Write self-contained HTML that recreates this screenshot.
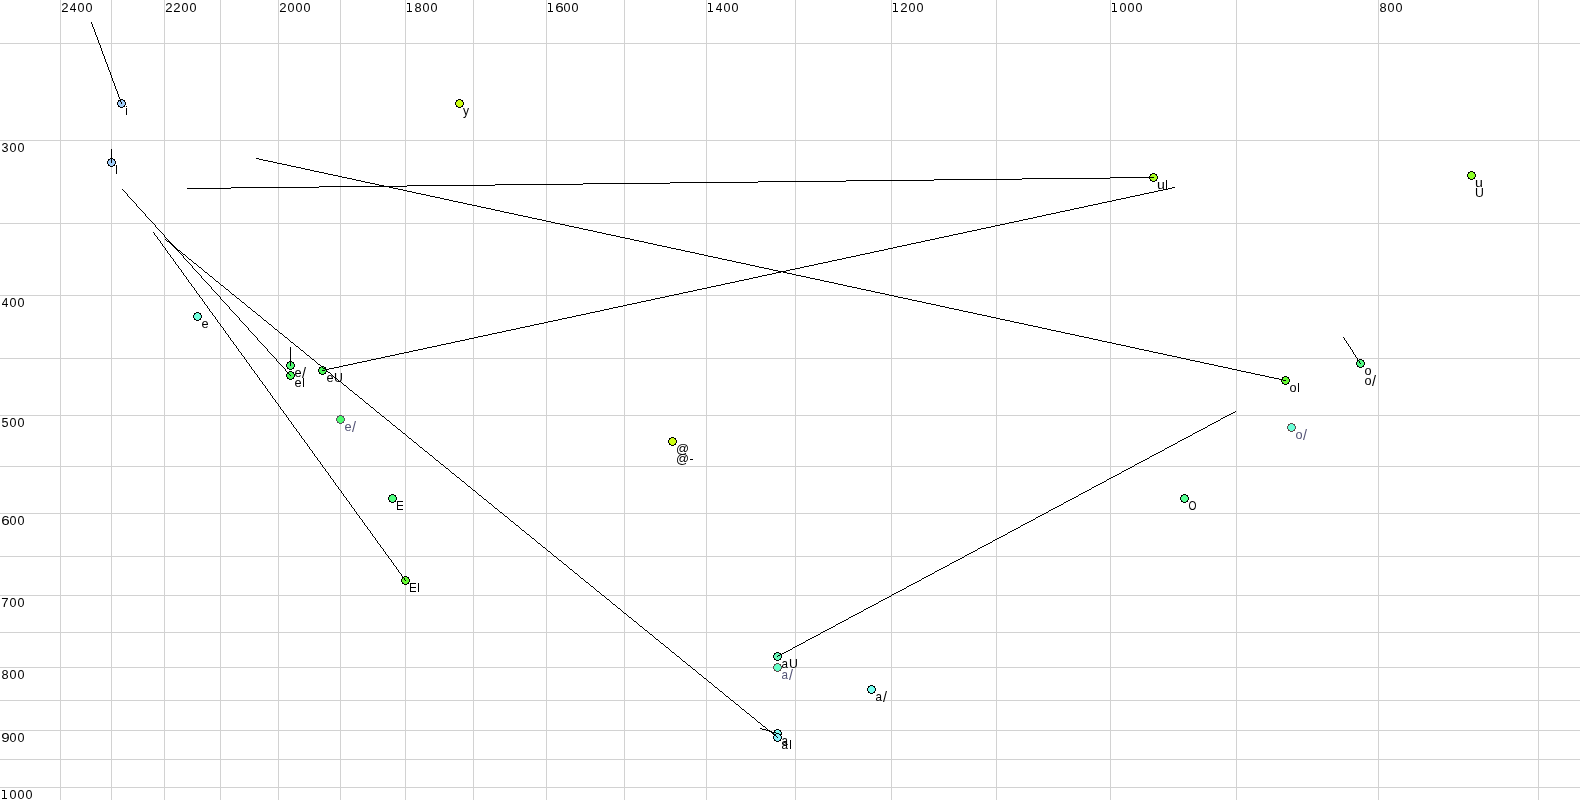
<!DOCTYPE html><html><head><meta charset="utf-8"><style>html,body{margin:0;padding:0;background:#fff;overflow:hidden}#w{position:absolute;left:0;top:0;width:1580px;height:800px;will-change:transform}svg{display:block}text{font-family:"Liberation Sans",sans-serif;font-size:13.0px}</style></head><body><div id="w">
<svg width="1580" height="800" viewBox="0 0 1580 800" shape-rendering="crispEdges">
<rect width="1580" height="800" fill="#fff"/>
<path fill="#d2d2d2" d="M60 0h1v800h-1zM111 0h1v800h-1zM164 0h1v800h-1zM220 0h1v800h-1zM278 0h1v800h-1zM340 0h1v800h-1zM405 0h1v800h-1zM473 0h1v800h-1zM546 0h1v800h-1zM624 0h1v800h-1zM706 0h1v800h-1zM795 0h1v800h-1zM891 0h1v800h-1zM996 0h1v800h-1zM1110 0h1v800h-1zM1236 0h1v800h-1zM1378 0h1v800h-1zM1538 0h1v800h-1zM0 43h1580v1h-1580zM0 140h1580v1h-1580zM0 223h1580v1h-1580zM0 295h1580v1h-1580zM0 358h1580v1h-1580zM0 415h1580v1h-1580zM0 466h1580v1h-1580zM0 513h1580v1h-1580zM0 556h1580v1h-1580zM0 595h1580v1h-1580zM0 632h1580v1h-1580zM0 667h1580v1h-1580zM0 700h1580v1h-1580zM0 730h1580v1h-1580zM0 759h1580v1h-1580zM0 787h1580v1h-1580z"/>
<path fill="#a2cefa" d="M120 100h3v1h-3zM119 101h5v1h-5zM118 102h7v1h-7zM118 103h7v1h-7zM118 104h7v1h-7zM119 105h5v1h-5zM120 106h3v1h-3z"/><path fill="#000" d="M120 99h3v1h-3zM118 100h2v1h-2zM123 100h2v1h-2zM118 101h1v1h-1zM124 101h1v1h-1zM117 102h1v1h-1zM125 102h1v1h-1zM117 103h1v1h-1zM125 103h1v1h-1zM117 104h1v1h-1zM125 104h1v1h-1zM118 105h1v1h-1zM124 105h1v1h-1zM118 106h2v1h-2zM123 106h2v1h-2zM120 107h3v1h-3z"/>
<path fill="#ccff14" d="M458 100h3v1h-3zM457 101h5v1h-5zM456 102h7v1h-7zM456 103h7v1h-7zM456 104h7v1h-7zM457 105h5v1h-5zM458 106h3v1h-3z"/><path fill="#000" d="M458 99h3v1h-3zM456 100h2v1h-2zM461 100h2v1h-2zM456 101h1v1h-1zM462 101h1v1h-1zM455 102h1v1h-1zM463 102h1v1h-1zM455 103h1v1h-1zM463 103h1v1h-1zM455 104h1v1h-1zM463 104h1v1h-1zM456 105h1v1h-1zM462 105h1v1h-1zM456 106h2v1h-2zM461 106h2v1h-2zM458 107h3v1h-3z"/>
<path fill="#a2cefa" d="M110 159h3v1h-3zM109 160h5v1h-5zM108 161h7v1h-7zM108 162h7v1h-7zM108 163h7v1h-7zM109 164h5v1h-5zM110 165h3v1h-3z"/><path fill="#000" d="M110 158h3v1h-3zM108 159h2v1h-2zM113 159h2v1h-2zM108 160h1v1h-1zM114 160h1v1h-1zM107 161h1v1h-1zM115 161h1v1h-1zM107 162h1v1h-1zM115 162h1v1h-1zM107 163h1v1h-1zM115 163h1v1h-1zM108 164h1v1h-1zM114 164h1v1h-1zM108 165h2v1h-2zM113 165h2v1h-2zM110 166h3v1h-3z"/>
<path fill="#aaff22" d="M1152 174h3v1h-3zM1151 175h5v1h-5zM1150 176h7v1h-7zM1150 177h7v1h-7zM1150 178h7v1h-7zM1151 179h5v1h-5zM1152 180h3v1h-3z"/><path fill="#000" d="M1152 173h3v1h-3zM1150 174h2v1h-2zM1155 174h2v1h-2zM1150 175h1v1h-1zM1156 175h1v1h-1zM1149 176h1v1h-1zM1157 176h1v1h-1zM1149 177h1v1h-1zM1157 177h1v1h-1zM1149 178h1v1h-1zM1157 178h1v1h-1zM1150 179h1v1h-1zM1156 179h1v1h-1zM1150 180h2v1h-2zM1155 180h2v1h-2zM1152 181h3v1h-3z"/>
<path fill="#8cff26" d="M1470 172h3v1h-3zM1469 173h5v1h-5zM1468 174h7v1h-7zM1468 175h7v1h-7zM1468 176h7v1h-7zM1469 177h5v1h-5zM1470 178h3v1h-3z"/><path fill="#000" d="M1470 171h3v1h-3zM1468 172h2v1h-2zM1473 172h2v1h-2zM1468 173h1v1h-1zM1474 173h1v1h-1zM1467 174h1v1h-1zM1475 174h1v1h-1zM1467 175h1v1h-1zM1475 175h1v1h-1zM1467 176h1v1h-1zM1475 176h1v1h-1zM1468 177h1v1h-1zM1474 177h1v1h-1zM1468 178h2v1h-2zM1473 178h2v1h-2zM1470 179h3v1h-3z"/>
<path fill="#70ffdd" d="M196 313h3v1h-3zM195 314h5v1h-5zM194 315h7v1h-7zM194 316h7v1h-7zM194 317h7v1h-7zM195 318h5v1h-5zM196 319h3v1h-3z"/><path fill="#000" d="M196 312h3v1h-3zM194 313h2v1h-2zM199 313h2v1h-2zM194 314h1v1h-1zM200 314h1v1h-1zM193 315h1v1h-1zM201 315h1v1h-1zM193 316h1v1h-1zM201 316h1v1h-1zM193 317h1v1h-1zM201 317h1v1h-1zM194 318h1v1h-1zM200 318h1v1h-1zM194 319h2v1h-2zM199 319h2v1h-2zM196 320h3v1h-3z"/>
<path fill="#50fa72" d="M289 362h3v1h-3zM288 363h5v1h-5zM287 364h7v1h-7zM287 365h7v1h-7zM287 366h7v1h-7zM288 367h5v1h-5zM289 368h3v1h-3z"/><path fill="#000" d="M289 361h3v1h-3zM287 362h2v1h-2zM292 362h2v1h-2zM287 363h1v1h-1zM293 363h1v1h-1zM286 364h1v1h-1zM294 364h1v1h-1zM286 365h1v1h-1zM294 365h1v1h-1zM286 366h1v1h-1zM294 366h1v1h-1zM287 367h1v1h-1zM293 367h1v1h-1zM287 368h2v1h-2zM292 368h2v1h-2zM289 369h3v1h-3z"/>
<path fill="#48fa58" d="M289 372h3v1h-3zM288 373h5v1h-5zM287 374h7v1h-7zM287 375h7v1h-7zM287 376h7v1h-7zM288 377h5v1h-5zM289 378h3v1h-3z"/><path fill="#000" d="M289 371h3v1h-3zM287 372h2v1h-2zM292 372h2v1h-2zM287 373h1v1h-1zM293 373h1v1h-1zM286 374h1v1h-1zM294 374h1v1h-1zM286 375h1v1h-1zM294 375h1v1h-1zM286 376h1v1h-1zM294 376h1v1h-1zM287 377h1v1h-1zM293 377h1v1h-1zM287 378h2v1h-2zM292 378h2v1h-2zM289 379h3v1h-3z"/>
<path fill="#48fa55" d="M321 367h3v1h-3zM320 368h5v1h-5zM319 369h7v1h-7zM319 370h7v1h-7zM319 371h7v1h-7zM320 372h5v1h-5zM321 373h3v1h-3z"/><path fill="#000" d="M321 366h3v1h-3zM319 367h2v1h-2zM324 367h2v1h-2zM319 368h1v1h-1zM325 368h1v1h-1zM318 369h1v1h-1zM326 369h1v1h-1zM318 370h1v1h-1zM326 370h1v1h-1zM318 371h1v1h-1zM326 371h1v1h-1zM319 372h1v1h-1zM325 372h1v1h-1zM319 373h2v1h-2zM324 373h2v1h-2zM321 374h3v1h-3z"/>
<path fill="#4aff6e" d="M339 416h3v1h-3zM338 417h5v1h-5zM337 418h7v1h-7zM337 419h7v1h-7zM337 420h7v1h-7zM338 421h5v1h-5zM339 422h3v1h-3z"/><path fill="#5c5060" d="M339 415h3v1h-3zM337 416h2v1h-2zM342 416h2v1h-2zM337 417h1v1h-1zM343 417h1v1h-1zM336 418h1v1h-1zM344 418h1v1h-1zM336 419h1v1h-1zM344 419h1v1h-1zM336 420h1v1h-1zM344 420h1v1h-1zM337 421h1v1h-1zM343 421h1v1h-1zM337 422h2v1h-2zM342 422h2v1h-2zM339 423h3v1h-3z"/>
<path fill="#66fa33" d="M1284 377h3v1h-3zM1283 378h5v1h-5zM1282 379h7v1h-7zM1282 380h7v1h-7zM1282 381h7v1h-7zM1283 382h5v1h-5zM1284 383h3v1h-3z"/><path fill="#000" d="M1284 376h3v1h-3zM1282 377h2v1h-2zM1287 377h2v1h-2zM1282 378h1v1h-1zM1288 378h1v1h-1zM1281 379h1v1h-1zM1289 379h1v1h-1zM1281 380h1v1h-1zM1289 380h1v1h-1zM1281 381h1v1h-1zM1289 381h1v1h-1zM1282 382h1v1h-1zM1288 382h1v1h-1zM1282 383h2v1h-2zM1287 383h2v1h-2zM1284 384h3v1h-3z"/>
<path fill="#55fa84" d="M1359 360h3v1h-3zM1358 361h5v1h-5zM1357 362h7v1h-7zM1357 363h7v1h-7zM1357 364h7v1h-7zM1358 365h5v1h-5zM1359 366h3v1h-3z"/><path fill="#000" d="M1359 359h3v1h-3zM1357 360h2v1h-2zM1362 360h2v1h-2zM1357 361h1v1h-1zM1363 361h1v1h-1zM1356 362h1v1h-1zM1364 362h1v1h-1zM1356 363h1v1h-1zM1364 363h1v1h-1zM1356 364h1v1h-1zM1364 364h1v1h-1zM1357 365h1v1h-1zM1363 365h1v1h-1zM1357 366h2v1h-2zM1362 366h2v1h-2zM1359 367h3v1h-3z"/>
<path fill="#69ffd7" d="M1290 424h3v1h-3zM1289 425h5v1h-5zM1288 426h7v1h-7zM1288 427h7v1h-7zM1288 428h7v1h-7zM1289 429h5v1h-5zM1290 430h3v1h-3z"/><path fill="#5a4c4c" d="M1290 423h3v1h-3zM1288 424h2v1h-2zM1293 424h2v1h-2zM1288 425h1v1h-1zM1294 425h1v1h-1zM1287 426h1v1h-1zM1295 426h1v1h-1zM1287 427h1v1h-1zM1295 427h1v1h-1zM1287 428h1v1h-1zM1295 428h1v1h-1zM1288 429h1v1h-1zM1294 429h1v1h-1zM1288 430h2v1h-2zM1293 430h2v1h-2zM1290 431h3v1h-3z"/>
<path fill="#ccff14" d="M671 438h3v1h-3zM670 439h5v1h-5zM669 440h7v1h-7zM669 441h7v1h-7zM669 442h7v1h-7zM670 443h5v1h-5zM671 444h3v1h-3z"/><path fill="#000" d="M671 437h3v1h-3zM669 438h2v1h-2zM674 438h2v1h-2zM669 439h1v1h-1zM675 439h1v1h-1zM668 440h1v1h-1zM676 440h1v1h-1zM668 441h1v1h-1zM676 441h1v1h-1zM668 442h1v1h-1zM676 442h1v1h-1zM669 443h1v1h-1zM675 443h1v1h-1zM669 444h2v1h-2zM674 444h2v1h-2zM671 445h3v1h-3z"/>
<path fill="#50ff80" d="M391 495h3v1h-3zM390 496h5v1h-5zM389 497h7v1h-7zM389 498h7v1h-7zM389 499h7v1h-7zM390 500h5v1h-5zM391 501h3v1h-3z"/><path fill="#000" d="M391 494h3v1h-3zM389 495h2v1h-2zM394 495h2v1h-2zM389 496h1v1h-1zM395 496h1v1h-1zM388 497h1v1h-1zM396 497h1v1h-1zM388 498h1v1h-1zM396 498h1v1h-1zM388 499h1v1h-1zM396 499h1v1h-1zM389 500h1v1h-1zM395 500h1v1h-1zM389 501h2v1h-2zM394 501h2v1h-2zM391 502h3v1h-3z"/>
<path fill="#55ff92" d="M1183 495h3v1h-3zM1182 496h5v1h-5zM1181 497h7v1h-7zM1181 498h7v1h-7zM1181 499h7v1h-7zM1182 500h5v1h-5zM1183 501h3v1h-3z"/><path fill="#000" d="M1183 494h3v1h-3zM1181 495h2v1h-2zM1186 495h2v1h-2zM1181 496h1v1h-1zM1187 496h1v1h-1zM1180 497h1v1h-1zM1188 497h1v1h-1zM1180 498h1v1h-1zM1188 498h1v1h-1zM1180 499h1v1h-1zM1188 499h1v1h-1zM1181 500h1v1h-1zM1187 500h1v1h-1zM1181 501h2v1h-2zM1186 501h2v1h-2zM1183 502h3v1h-3z"/>
<path fill="#66fa33" d="M404 577h3v1h-3zM403 578h5v1h-5zM402 579h7v1h-7zM402 580h7v1h-7zM402 581h7v1h-7zM403 582h5v1h-5zM404 583h3v1h-3z"/><path fill="#000" d="M404 576h3v1h-3zM402 577h2v1h-2zM407 577h2v1h-2zM402 578h1v1h-1zM408 578h1v1h-1zM401 579h1v1h-1zM409 579h1v1h-1zM401 580h1v1h-1zM409 580h1v1h-1zM401 581h1v1h-1zM409 581h1v1h-1zM402 582h1v1h-1zM408 582h1v1h-1zM402 583h2v1h-2zM407 583h2v1h-2zM404 584h3v1h-3z"/>
<path fill="#66f8b8" d="M776 653h3v1h-3zM775 654h5v1h-5zM774 655h7v1h-7zM774 656h7v1h-7zM774 657h7v1h-7zM775 658h5v1h-5zM776 659h3v1h-3z"/><path fill="#000" d="M776 652h3v1h-3zM774 653h2v1h-2zM779 653h2v1h-2zM774 654h1v1h-1zM780 654h1v1h-1zM773 655h1v1h-1zM781 655h1v1h-1zM773 656h1v1h-1zM781 656h1v1h-1zM773 657h1v1h-1zM781 657h1v1h-1zM774 658h1v1h-1zM780 658h1v1h-1zM774 659h2v1h-2zM779 659h2v1h-2zM776 660h3v1h-3z"/>
<path fill="#66ffc8" d="M776 664h3v1h-3zM775 665h5v1h-5zM774 666h7v1h-7zM774 667h7v1h-7zM774 668h7v1h-7zM775 669h5v1h-5zM776 670h3v1h-3z"/><path fill="#5a4c4c" d="M776 663h3v1h-3zM774 664h2v1h-2zM779 664h2v1h-2zM774 665h1v1h-1zM780 665h1v1h-1zM773 666h1v1h-1zM781 666h1v1h-1zM773 667h1v1h-1zM781 667h1v1h-1zM773 668h1v1h-1zM781 668h1v1h-1zM774 669h1v1h-1zM780 669h1v1h-1zM774 670h2v1h-2zM779 670h2v1h-2zM776 671h3v1h-3z"/>
<path fill="#77fff0" d="M870 686h3v1h-3zM869 687h5v1h-5zM868 688h7v1h-7zM868 689h7v1h-7zM868 690h7v1h-7zM869 691h5v1h-5zM870 692h3v1h-3z"/><path fill="#000" d="M870 685h3v1h-3zM868 686h2v1h-2zM873 686h2v1h-2zM868 687h1v1h-1zM874 687h1v1h-1zM867 688h1v1h-1zM875 688h1v1h-1zM867 689h1v1h-1zM875 689h1v1h-1zM867 690h1v1h-1zM875 690h1v1h-1zM868 691h1v1h-1zM874 691h1v1h-1zM868 692h2v1h-2zM873 692h2v1h-2zM870 693h3v1h-3z"/>
<path fill="#80faf0" d="M776 730h3v1h-3zM775 731h5v1h-5zM774 732h7v1h-7zM774 733h7v1h-7zM774 734h7v1h-7zM775 735h5v1h-5zM776 736h3v1h-3z"/><path fill="#000" d="M776 729h3v1h-3zM774 730h2v1h-2zM779 730h2v1h-2zM774 731h1v1h-1zM780 731h1v1h-1zM773 732h1v1h-1zM781 732h1v1h-1zM773 733h1v1h-1zM781 733h1v1h-1zM773 734h1v1h-1zM781 734h1v1h-1zM774 735h1v1h-1zM780 735h1v1h-1zM774 736h2v1h-2zM779 736h2v1h-2zM776 737h3v1h-3z"/>
<path fill="#88f0fa" d="M776 734h3v1h-3zM775 735h5v1h-5zM774 736h7v1h-7zM774 737h7v1h-7zM774 738h7v1h-7zM775 739h5v1h-5zM776 740h3v1h-3z"/><path fill="#000" d="M776 733h3v1h-3zM774 734h2v1h-2zM779 734h2v1h-2zM774 735h1v1h-1zM780 735h1v1h-1zM773 736h1v1h-1zM781 736h1v1h-1zM773 737h1v1h-1zM781 737h1v1h-1zM773 738h1v1h-1zM781 738h1v1h-1zM774 739h1v1h-1zM780 739h1v1h-1zM774 740h2v1h-2zM779 740h2v1h-2zM776 741h3v1h-3z"/>
<path fill="#000" d="M118 94h1v3h-1zM115 86h1v3h-1zM121 102h1v2h-1zM105 59h1v3h-1zM92 24h1v3h-1zM97 37h1v3h-1zM103 54h1v2h-1zM94 29h1v3h-1zM100 45h1v3h-1zM111 75h1v3h-1zM117 91h1v3h-1zM108 67h1v3h-1zM119 97h1v2h-1zM96 35h1v2h-1zM98 40h1v3h-1zM120 99h1v3h-1zM104 56h1v3h-1zM106 62h1v2h-1zM112 78h1v3h-1zM110 72h1v3h-1zM101 48h1v3h-1zM91 22h1v2h-1zM102 51h1v3h-1zM99 43h1v2h-1zM116 89h1v2h-1zM113 81h1v2h-1zM114 83h1v3h-1zM95 32h1v3h-1zM109 70h1v2h-1zM107 64h1v3h-1zM93 27h1v2h-1zM111 149h1v14h-1zM846 180h88v1h-88zM758 181h88v1h-88zM583 183h87v1h-87zM934 179h88v1h-88zM407 185h88v1h-88zM670 182h88v1h-88zM1022 178h88v1h-88zM187 188h44v1h-44zM1110 177h44v1h-44zM319 186h88v1h-88zM231 187h88v1h-88zM495 184h88v1h-88zM625 238h5v1h-5zM301 168h4v1h-4zM393 188h5v1h-5zM718 258h4v1h-4zM282 164h5v1h-5zM375 184h4v1h-4zM936 305h4v1h-4zM1028 325h5v1h-5zM1038 327h4v1h-4zM917 301h5v1h-5zM593 231h4v1h-4zM574 227h5v1h-5zM555 223h5v1h-5zM787 273h5v1h-5zM676 249h5v1h-5zM769 269h4v1h-4zM750 265h5v1h-5zM333 175h5v1h-5zM305 169h5v1h-5zM314 171h5v1h-5zM968 312h5v1h-5zM1061 332h4v1h-4zM949 308h5v1h-5zM1042 328h5v1h-5zM504 212h5v1h-5zM606 234h5v1h-5zM699 254h5v1h-5zM486 208h5v1h-5zM681 250h4v1h-4zM1260 375h5v1h-5zM467 204h5v1h-5zM1241 371h5v1h-5zM1223 367h5v1h-5zM806 277h4v1h-4zM880 293h5v1h-5zM435 197h5v1h-5zM416 193h5v1h-5zM982 315h5v1h-5zM537 219h5v1h-5zM639 241h5v1h-5zM518 215h5v1h-5zM611 235h5v1h-5zM1107 342h5v1h-5zM1274 378h5v1h-5zM1153 352h5v1h-5zM931 304h5v1h-5zM1246 372h5v1h-5zM810 278h5v1h-5zM903 298h5v1h-5zM912 300h5v1h-5zM792 274h4v1h-4zM356 180h5v1h-5zM449 200h4v1h-4zM1084 337h5v1h-5zM1065 333h5v1h-5zM741 263h5v1h-5zM722 259h5v1h-5zM1204 363h5v1h-5zM843 285h4v1h-4zM824 281h5v1h-5zM500 211h4v1h-4zM379 185h5v1h-5zM481 207h5v1h-5zM453 201h5v1h-5zM1135 348h4v1h-4zM1237 370h4v1h-4zM1024 324h4v1h-4zM1116 344h5v1h-5zM1190 360h5v1h-5zM773 270h5v1h-5zM1209 364h5v1h-5zM653 244h4v1h-4zM755 266h4v1h-4zM634 240h5v1h-5zM310 170h4v1h-4zM319 172h5v1h-5zM291 166h5v1h-5zM954 309h5v1h-5zM1167 355h5v1h-5zM1149 351h4v1h-4zM685 251h5v1h-5zM778 271h5v1h-5zM667 247h4v1h-4zM342 177h5v1h-5zM759 267h5v1h-5zM324 173h4v1h-4zM1005 320h5v1h-5zM977 314h5v1h-5zM987 316h4v1h-4zM1079 336h5v1h-5zM959 310h4v1h-4zM542 220h4v1h-4zM940 306h5v1h-5zM523 216h5v1h-5zM616 236h4v1h-4zM597 232h5v1h-5zM736 262h5v1h-5zM1010 321h4v1h-4zM898 297h5v1h-5zM991 317h5v1h-5zM648 243h5v1h-5zM528 217h4v1h-4zM630 239h4v1h-4zM1283 380h3v1h-3zM1172 356h5v1h-5zM847 286h5v1h-5zM1265 376h4v1h-4zM829 282h5v1h-5zM922 302h4v1h-4zM384 186h5v1h-5zM1102 341h5v1h-5zM852 287h5v1h-5zM861 289h5v1h-5zM834 283h4v1h-4zM398 189h5v1h-5zM491 209h4v1h-4zM472 205h5v1h-5zM1033 326h5v1h-5zM1228 368h4v1h-4zM690 252h5v1h-5zM671 248h5v1h-5zM885 294h4v1h-4zM866 290h5v1h-5zM430 196h5v1h-5zM1158 353h5v1h-5zM1139 349h5v1h-5zM815 279h5v1h-5zM602 233h4v1h-4zM704 255h4v1h-4zM796 275h5v1h-5zM583 229h5v1h-5zM268 161h5v1h-5zM259 159h4v1h-4zM361 181h4v1h-4zM996 318h4v1h-4zM532 218h5v1h-5zM727 260h5v1h-5zM273 162h4v1h-4zM365 182h5v1h-5zM1047 329h4v1h-4zM347 178h5v1h-5zM926 303h5v1h-5zM1269 377h5v1h-5zM908 299h4v1h-4zM1000 319h5v1h-5zM889 295h5v1h-5zM565 225h4v1h-4zM657 245h5v1h-5zM546 221h5v1h-5zM1200 362h4v1h-4zM1181 358h5v1h-5zM857 288h4v1h-4zM838 284h5v1h-5zM1014 322h5v1h-5zM569 226h5v1h-5zM256 158h3v1h-3zM579 228h4v1h-4zM1232 369h5v1h-5zM1121 345h5v1h-5zM1214 365h4v1h-4zM871 291h4v1h-4zM407 191h5v1h-5zM509 213h5v1h-5zM1070 334h5v1h-5zM1051 330h5v1h-5zM1144 350h5v1h-5zM708 256h5v1h-5zM801 276h5v1h-5zM783 272h4v1h-4zM875 292h5v1h-5zM440 198h4v1h-4zM421 194h5v1h-5zM1195 361h5v1h-5zM1075 335h4v1h-4zM1177 357h4v1h-4zM1056 331h5v1h-5zM732 261h4v1h-4zM620 237h5v1h-5zM713 257h5v1h-5zM277 163h5v1h-5zM370 183h5v1h-5zM1089 338h4v1h-4zM764 268h5v1h-5zM644 242h4v1h-4zM328 174h5v1h-5zM746 264h4v1h-4zM963 311h5v1h-5zM263 160h5v1h-5zM945 307h4v1h-4zM1019 323h5v1h-5zM1218 366h5v1h-5zM296 167h5v1h-5zM514 214h4v1h-4zM495 210h5v1h-5zM588 230h5v1h-5zM1251 373h4v1h-4zM426 195h4v1h-4zM1163 354h4v1h-4zM1255 374h5v1h-5zM820 280h4v1h-4zM894 296h4v1h-4zM477 206h4v1h-4zM458 202h5v1h-5zM338 176h4v1h-4zM1112 343h4v1h-4zM1093 339h5v1h-5zM389 187h4v1h-4zM463 203h4v1h-4zM1126 346h4v1h-4zM662 246h5v1h-5zM1130 347h5v1h-5zM695 253h4v1h-4zM352 179h4v1h-4zM551 222h4v1h-4zM1186 359h4v1h-4zM444 199h5v1h-5zM287 165h4v1h-4zM412 192h4v1h-4zM973 313h4v1h-4zM1098 340h4v1h-4zM1279 379h4v1h-4zM560 224h5v1h-5zM403 190h4v1h-4zM175 248h1v1h-1zM231 310h1v1h-1zM201 276h1v2h-1zM257 338h1v2h-1zM241 321h1v1h-1zM125 192h1v1h-1zM267 349h1v2h-1zM181 254h1v1h-1zM165 237h1v1h-1zM176 249h1v1h-1zM286 371h1v1h-1zM191 265h1v1h-1zM170 242h1v1h-1zM263 345h1v1h-1zM242 322h1v1h-1zM236 315h1v1h-1zM166 238h1v1h-1zM160 231h1v1h-1zM192 266h1v2h-1zM232 311h1v1h-1zM156 227h1v1h-1zM188 262h1v1h-1zM182 255h1v1h-1zM222 300h1v1h-1zM254 335h1v1h-1zM248 328h1v2h-1zM157 228h1v1h-1zM151 221h1v1h-1zM183 256h1v2h-1zM276 359h1v2h-1zM223 301h1v1h-1zM147 217h1v1h-1zM289 374h1v1h-1zM173 245h1v2h-1zM245 325h1v1h-1zM239 318h1v2h-1zM285 369h1v2h-1zM255 336h1v1h-1zM169 241h1v1h-1zM234 313h1v1h-1zM148 218h1v1h-1zM158 229h1v1h-1zM235 314h1v1h-1zM214 291h1v1h-1zM230 309h1v1h-1zM224 302h1v1h-1zM164 235h1v2h-1zM180 253h1v1h-1zM127 194h1v2h-1zM220 297h1v2h-1zM246 326h1v1h-1zM225 303h1v1h-1zM155 225h1v2h-1zM149 219h1v1h-1zM221 299h1v1h-1zM215 292h1v1h-1zM247 327h1v1h-1zM145 214h1v2h-1zM287 372h1v1h-1zM139 208h1v1h-1zM171 243h1v1h-1zM281 365h1v1h-1zM211 287h1v2h-1zM237 316h1v1h-1zM167 239h1v1h-1zM277 361h1v1h-1zM161 232h1v1h-1zM140 209h1v1h-1zM233 312h1v1h-1zM212 289h1v1h-1zM227 305h1v1h-1zM206 282h1v1h-1zM238 317h1v1h-1zM136 204h1v2h-1zM278 362h1v1h-1zM162 233h1v1h-1zM146 216h1v1h-1zM288 373h1v1h-1zM202 278h1v1h-1zM228 306h1v1h-1zM268 351h1v1h-1zM152 222h1v1h-1zM217 294h1v1h-1zM131 199h1v1h-1zM218 295h1v1h-1zM197 272h1v1h-1zM213 290h1v1h-1zM290 375h1v1h-1zM137 206h1v1h-1zM279 363h1v1h-1zM193 268h1v1h-1zM163 234h1v1h-1zM219 296h1v1h-1zM203 279h1v1h-1zM229 307h1v2h-1zM143 212h1v1h-1zM159 230h1v1h-1zM269 352h1v1h-1zM138 207h1v1h-1zM153 223h1v1h-1zM280 364h1v1h-1zM132 200h1v1h-1zM274 357h1v1h-1zM204 280h1v1h-1zM198 273h1v1h-1zM128 196h1v1h-1zM270 353h1v1h-1zM154 224h1v1h-1zM194 269h1v1h-1zM226 304h1v1h-1zM150 220h1v1h-1zM260 342h1v1h-1zM129 197h1v1h-1zM144 213h1v1h-1zM123 190h1v1h-1zM216 293h1v1h-1zM195 270h1v1h-1zM210 286h1v1h-1zM189 263h1v1h-1zM205 281h1v1h-1zM282 366h1v1h-1zM251 332h1v1h-1zM261 343h1v1h-1zM185 259h1v1h-1zM141 210h1v1h-1zM283 367h1v1h-1zM135 203h1v1h-1zM130 198h1v1h-1zM207 283h1v1h-1zM272 355h1v1h-1zM196 271h1v1h-1zM273 356h1v1h-1zM252 333h1v1h-1zM262 344h1v1h-1zM258 340h1v1h-1zM126 193h1v1h-1zM142 211h1v1h-1zM284 368h1v1h-1zM208 284h1v1h-1zM122 189h1v1h-1zM187 261h1v1h-1zM264 346h1v1h-1zM259 341h1v1h-1zM253 334h1v1h-1zM177 250h1v1h-1zM209 285h1v1h-1zM249 330h1v1h-1zM133 201h1v1h-1zM243 323h1v1h-1zM275 358h1v1h-1zM199 274h1v1h-1zM178 251h1v1h-1zM172 244h1v1h-1zM271 354h1v1h-1zM265 347h1v1h-1zM244 324h1v1h-1zM174 247h1v1h-1zM168 240h1v1h-1zM200 275h1v1h-1zM184 258h1v1h-1zM240 320h1v1h-1zM124 191h1v1h-1zM266 348h1v1h-1zM250 331h1v1h-1zM134 202h1v1h-1zM190 264h1v1h-1zM179 252h1v1h-1zM256 337h1v1h-1zM186 260h1v1h-1zM281 409h1v1h-1zM204 302h1v2h-1zM292 424h1v1h-1zM380 545h1v2h-1zM164 247h1v1h-1zM252 369h1v1h-1zM208 308h1v1h-1zM178 266h1v2h-1zM346 498h1v2h-1zM306 443h1v1h-1zM394 565h1v1h-1zM262 382h1v2h-1zM350 504h1v1h-1zM222 327h1v1h-1zM310 449h1v1h-1zM233 342h1v2h-1zM321 464h1v1h-1zM236 346h1v2h-1zM404 578h1v2h-1zM193 287h1v1h-1zM364 523h1v2h-1zM237 348h1v1h-1zM207 306h1v2h-1zM375 538h1v2h-1zM378 543h1v1h-1zM335 483h1v2h-1zM163 246h1v1h-1zM251 367h1v2h-1zM291 422h1v2h-1zM379 544h1v1h-1zM339 489h1v1h-1zM305 442h1v1h-1zM393 563h1v2h-1zM295 428h1v1h-1zM177 265h1v1h-1zM265 386h1v2h-1zM266 388h1v1h-1zM354 509h1v2h-1zM192 286h1v1h-1zM280 407h1v2h-1zM320 462h1v2h-1zM196 291h1v2h-1zM334 482h1v1h-1zM324 468h1v1h-1zM206 305h1v1h-1zM294 427h1v1h-1zM167 251h1v2h-1zM250 366h1v1h-1zM338 487h1v2h-1zM210 311h1v1h-1zM221 326h1v1h-1zM309 447h1v2h-1zM181 270h1v2h-1zM349 502h1v2h-1zM352 507h1v1h-1zM225 331h1v2h-1zM353 508h1v1h-1zM323 467h1v1h-1zM191 284h1v2h-1zM279 406h1v1h-1zM367 527h1v2h-1zM239 351h1v1h-1zM293 425h1v2h-1zM381 547h1v1h-1zM166 250h1v1h-1zM254 371h1v2h-1zM382 548h1v1h-1zM385 552h1v2h-1zM220 324h1v2h-1zM308 446h1v1h-1zM396 567h1v2h-1zM268 391h1v1h-1zM356 512h1v2h-1zM224 330h1v1h-1zM312 451h1v2h-1zM195 290h1v1h-1zM283 411h1v2h-1zM209 309h1v2h-1zM199 295h1v2h-1zM249 364h1v2h-1zM337 486h1v1h-1zM165 248h1v2h-1zM253 370h1v1h-1zM341 491h1v2h-1zM267 389h1v2h-1zM307 444h1v2h-1zM395 566h1v1h-1zM180 269h1v1h-1zM228 335h1v2h-1zM366 526h1v1h-1zM154 233h1v2h-1zM322 465h1v2h-1zM194 288h1v2h-1zM282 410h1v1h-1zM370 531h1v2h-1zM155 235h1v1h-1zM326 471h1v1h-1zM296 429h1v2h-1zM198 294h1v1h-1zM286 415h1v2h-1zM168 253h1v1h-1zM297 431h1v1h-1zM169 254h1v1h-1zM257 375h1v2h-1zM340 490h1v1h-1zM398 570h1v2h-1zM213 315h1v1h-1zM183 273h1v2h-1zM351 505h1v2h-1zM223 328h1v2h-1zM311 450h1v1h-1zM399 572h1v1h-1zM314 454h1v2h-1zM355 511h1v1h-1zM325 469h1v2h-1zM227 334h1v1h-1zM315 456h1v1h-1zM197 293h1v1h-1zM238 349h1v2h-1zM153 232h1v1h-1zM241 353h1v2h-1zM369 530h1v1h-1zM242 355h1v1h-1zM212 313h1v2h-1zM383 549h1v2h-1zM384 551h1v1h-1zM256 374h1v1h-1zM344 496h1v1h-1zM182 272h1v1h-1zM270 393h1v2h-1zM271 395h1v1h-1zM402 576h1v1h-1zM157 237h1v2h-1zM285 414h1v1h-1zM373 536h1v1h-1zM329 475h1v1h-1zM211 312h1v1h-1zM299 433h1v2h-1zM255 373h1v1h-1zM343 494h1v2h-1zM215 317h1v2h-1zM226 333h1v1h-1zM397 569h1v1h-1zM186 277h1v2h-1zM269 392h1v1h-1zM357 514h1v1h-1zM230 338h1v2h-1zM368 529h1v1h-1zM358 515h1v1h-1zM240 352h1v1h-1zM328 473h1v2h-1zM284 413h1v1h-1zM372 534h1v2h-1zM156 236h1v1h-1zM244 357h1v2h-1zM288 418h1v2h-1zM170 255h1v2h-1zM160 241h1v2h-1zM298 432h1v1h-1zM386 554h1v1h-1zM171 257h1v1h-1zM259 378h1v2h-1zM387 555h1v1h-1zM313 453h1v1h-1zM401 574h1v2h-1zM185 276h1v1h-1zM273 398h1v1h-1zM229 337h1v1h-1zM317 458h1v2h-1zM189 282h1v1h-1zM327 472h1v1h-1zM200 297h1v1h-1zM371 533h1v1h-1zM243 356h1v1h-1zM331 478h1v1h-1zM342 493h1v1h-1zM214 316h1v1h-1zM302 438h1v1h-1zM258 377h1v1h-1zM218 322h1v1h-1zM184 275h1v1h-1zM272 396h1v2h-1zM400 573h1v1h-1zM360 518h1v1h-1zM287 417h1v1h-1zM301 436h1v2h-1zM203 301h1v1h-1zM173 259h1v2h-1zM217 320h1v2h-1zM174 261h1v1h-1zM345 497h1v1h-1zM188 280h1v2h-1zM359 516h1v2h-1zM316 457h1v1h-1zM330 476h1v2h-1zM232 341h1v1h-1zM202 299h1v2h-1zM158 239h1v1h-1zM246 360h1v2h-1zM374 537h1v1h-1zM159 240h1v1h-1zM247 362h1v1h-1zM300 435h1v1h-1zM388 556h1v2h-1zM172 258h1v1h-1zM260 380h1v1h-1zM389 558h1v1h-1zM261 381h1v1h-1zM231 340h1v1h-1zM187 279h1v1h-1zM275 400h1v2h-1zM403 577h1v1h-1zM276 402h1v1h-1zM319 461h1v1h-1zM289 420h1v1h-1zM377 541h1v2h-1zM162 244h1v2h-1zM333 480h1v2h-1zM290 421h1v1h-1zM216 319h1v1h-1zM304 440h1v2h-1zM348 501h1v1h-1zM274 399h1v1h-1zM362 520h1v2h-1zM363 522h1v1h-1zM245 359h1v1h-1zM235 345h1v1h-1zM201 298h1v1h-1zM161 243h1v1h-1zM205 304h1v1h-1zM175 262h1v2h-1zM303 439h1v1h-1zM391 560h1v2h-1zM176 264h1v1h-1zM392 562h1v1h-1zM264 385h1v1h-1zM318 460h1v1h-1zM190 283h1v1h-1zM278 404h1v2h-1zM234 344h1v1h-1zM332 479h1v1h-1zM376 540h1v1h-1zM248 363h1v1h-1zM336 485h1v1h-1zM347 500h1v1h-1zM219 323h1v1h-1zM390 559h1v1h-1zM263 384h1v1h-1zM361 519h1v1h-1zM179 268h1v1h-1zM405 580h1v1h-1zM277 403h1v1h-1zM365 525h1v1h-1zM538 543h2v1h-2zM346 386h1v1h-1zM357 395h1v1h-1zM680 658h1v1h-1zM691 667h1v1h-1zM347 387h1v1h-1zM279 332h1v1h-1zM498 510h1v1h-1zM602 595h2v1h-2zM681 659h1v1h-1zM613 604h2v1h-2zM704 678h2v1h-2zM420 447h2v1h-2zM371 407h2v1h-2zM382 416h2v1h-2zM706 679h1v1h-1zM189 259h2v1h-2zM717 688h1v1h-1zM305 353h1v1h-1zM524 531h1v1h-1zM639 625h1v1h-1zM446 468h2v1h-2zM457 477h2v1h-2zM548 551h2v1h-2zM264 320h2v1h-2zM742 709h2v1h-2zM226 289h2v1h-2zM550 552h1v1h-1zM561 561h1v1h-1zM472 489h1v1h-1zM483 498h1v1h-1zM494 507h1v1h-1zM290 341h1v1h-1zM768 730h2v1h-2zM497 509h1v1h-1zM624 613h2v1h-2zM575 573h2v1h-2zM586 582h2v1h-2zM315 361h1v1h-1zM175 247h1v1h-1zM393 425h2v1h-2zM430 455h2v1h-2zM649 633h1v1h-1zM509 519h1v1h-1zM728 697h1v1h-1zM520 528h1v1h-1zM316 362h1v1h-1zM248 307h2v1h-2zM327 371h1v1h-1zM650 634h2v1h-2zM661 643h2v1h-2zM752 717h2v1h-2zM341 382h1v1h-1zM201 268h1v1h-1zM352 391h1v1h-1zM675 654h1v1h-1zM535 540h1v1h-1zM754 718h1v1h-1zM686 663h1v1h-1zM263 319h1v1h-1zM765 727h1v1h-1zM342 383h1v1h-1zM274 328h1v1h-1zM353 392h1v1h-1zM597 591h2v1h-2zM364 401h1v1h-1zM676 655h1v1h-1zM468 486h2v1h-2zM687 664h1v1h-1zM275 329h2v1h-2zM366 403h2v1h-2zM377 412h2v1h-2zM173 246h2v1h-2zM701 675h1v1h-1zM185 255h1v1h-1zM712 684h1v1h-1zM508 518h1v1h-1zM368 404h1v1h-1zM300 349h1v1h-1zM519 527h1v1h-1zM379 413h1v1h-1zM702 676h1v1h-1zM186 256h1v1h-1zM634 621h2v1h-2zM713 685h1v1h-1zM197 265h1v1h-1zM441 464h2v1h-2zM301 350h2v1h-2zM452 473h2v1h-2zM403 433h2v1h-2zM199 267h2v1h-2zM726 696h2v1h-2zM210 276h2v1h-2zM738 705h1v1h-1zM221 285h2v1h-2zM534 539h1v1h-1zM326 370h1v1h-1zM545 548h1v1h-1zM212 277h1v1h-1zM660 642h1v1h-1zM223 286h1v1h-1zM467 485h1v1h-1zM546 549h1v1h-1zM478 494h1v1h-1zM557 558h1v1h-1zM285 337h2v1h-2zM763 726h2v1h-2zM559 560h2v1h-2zM479 495h2v1h-2zM570 569h2v1h-2zM581 578h2v1h-2zM237 298h2v1h-2zM170 243h1v1h-1zM493 506h1v1h-1zM572 570h1v1h-1zM504 515h1v1h-1zM311 358h1v1h-1zM645 630h2v1h-2zM607 599h2v1h-2zM196 264h1v1h-1zM323 368h2v1h-2zM414 442h2v1h-2zM530 536h1v1h-1zM749 714h1v1h-1zM337 379h1v1h-1zM348 388h1v1h-1zM671 651h1v1h-1zM682 660h1v1h-1zM556 557h1v1h-1zM774 735h2v1h-2zM363 400h1v1h-1zM295 345h1v1h-1zM374 409h1v1h-1zM385 418h1v1h-1zM697 672h1v1h-1zM181 252h1v1h-1zM629 617h2v1h-2zM708 681h1v1h-1zM719 690h1v1h-1zM296 346h2v1h-2zM387 420h2v1h-2zM515 524h1v1h-1zM307 355h2v1h-2zM722 692h1v1h-1zM389 421h1v1h-1zM400 430h1v1h-1zM618 608h2v1h-2zM723 693h1v1h-1zM207 273h1v1h-1zM734 702h1v1h-1zM218 282h1v1h-1zM322 367h1v1h-1zM541 545h1v1h-1zM473 490h2v1h-2zM333 376h1v1h-1zM552 554h1v1h-1zM656 639h2v1h-2zM747 713h2v1h-2zM242 302h2v1h-2zM566 565h1v1h-1zM425 451h2v1h-2zM577 574h1v1h-1zM232 294h2v1h-2zM165 239h1v1h-1zM760 723h1v1h-1zM244 303h1v1h-1zM567 566h1v1h-1zM499 511h1v1h-1zM359 397h1v1h-1zM578 575h1v1h-1zM166 240h1v1h-1zM693 669h2v1h-2zM177 249h1v1h-1zM489 503h2v1h-2zM500 512h2v1h-2zM591 586h2v1h-2zM511 521h2v1h-2zM180 251h1v1h-1zM258 315h2v1h-2zM191 260h1v1h-1zM409 438h2v1h-2zM269 324h2v1h-2zM514 523h1v1h-1zM593 587h1v1h-1zM525 532h1v1h-1zM744 710h1v1h-1zM604 596h1v1h-1zM332 375h1v1h-1zM192 261h1v1h-1zM411 439h1v1h-1zM203 270h1v1h-1zM666 647h2v1h-2zM526 533h1v1h-1zM745 711h1v1h-1zM537 542h1v1h-1zM216 281h2v1h-2zM344 385h2v1h-2zM758 722h2v1h-2zM551 553h1v1h-1zM770 731h1v1h-1zM358 396h1v1h-1zM436 460h2v1h-2zM369 405h1v1h-1zM448 469h1v1h-1zM692 668h1v1h-1zM771 732h1v1h-1zM703 677h1v1h-1zM280 333h2v1h-2zM291 342h2v1h-2zM370 406h1v1h-1zM381 415h1v1h-1zM715 687h2v1h-2zM384 417h1v1h-1zM462 481h2v1h-2zM395 426h1v1h-1zM718 689h1v1h-1zM202 269h1v1h-1zM729 698h1v1h-1zM317 363h1v1h-1zM536 541h1v1h-1zM396 427h1v1h-1zM730 699h1v1h-1zM214 279h1v1h-1zM318 364h2v1h-2zM228 290h1v1h-1zM755 719h1v1h-1zM239 299h1v1h-1zM343 384h1v1h-1zM562 562h1v1h-1zM573 571h1v1h-1zM677 656h2v1h-2zM240 300h1v1h-1zM172 245h1v1h-1zM484 499h2v1h-2zM495 508h2v1h-2zM574 572h1v1h-1zM253 311h2v1h-2zM588 583h1v1h-1zM599 592h1v1h-1zM176 248h1v1h-1zM187 257h1v1h-1zM406 435h1v1h-1zM198 266h1v1h-1zM510 520h1v1h-1zM521 529h1v1h-1zM740 707h1v1h-1zM532 538h2v1h-2zM328 372h2v1h-2zM339 381h2v1h-2zM213 278h1v1h-1zM432 456h1v1h-1zM224 287h1v1h-1zM547 550h1v1h-1zM766 728h1v1h-1zM558 559h1v1h-1zM354 393h1v1h-1zM365 402h1v1h-1zM688 665h2v1h-2zM699 674h2v1h-2zM390 422h1v1h-1zM250 308h1v1h-1zM724 694h1v1h-1zM584 580h1v1h-1zM380 414h1v1h-1zM312 359h2v1h-2zM391 423h1v1h-1zM402 432h1v1h-1zM714 686h1v1h-1zM725 695h1v1h-1zM736 704h2v1h-2zM405 434h1v1h-1zM416 443h1v1h-1zM739 706h1v1h-1zM505 516h2v1h-2zM750 715h1v1h-1zM610 601h1v1h-1zM338 380h1v1h-1zM417 444h1v1h-1zM636 622h1v1h-1zM428 453h1v1h-1zM672 652h2v1h-2zM751 716h1v1h-1zM235 296h1v1h-1zM762 725h1v1h-1zM350 390h2v1h-2zM569 568h1v1h-1zM776 736h1v1h-1zM260 316h1v1h-1zM583 579h1v1h-1zM443 465h1v1h-1zM594 588h1v1h-1zM171 244h1v1h-1zM454 474h1v1h-1zM698 673h1v1h-1zM182 253h1v1h-1zM777 737h1v1h-1zM261 317h1v1h-1zM516 525h2v1h-2zM376 411h1v1h-1zM595 589h1v1h-1zM183 254h2v1h-2zM194 263h2v1h-2zM609 600h1v1h-1zM620 609h1v1h-1zM208 274h1v1h-1zM427 452h1v1h-1zM287 338h1v1h-1zM531 537h1v1h-1zM542 546h1v1h-1zM761 724h1v1h-1zM621 610h1v1h-1zM349 389h1v1h-1zM209 275h1v1h-1zM360 398h2v1h-2zM220 284h1v1h-1zM683 661h2v1h-2zM543 547h2v1h-2zM554 556h2v1h-2zM234 295h1v1h-1zM568 567h1v1h-1zM647 631h1v1h-1zM375 410h1v1h-1zM386 419h1v1h-1zM465 483h1v1h-1zM709 682h2v1h-2zM193 262h1v1h-1zM720 691h2v1h-2zM527 534h2v1h-2zM398 429h2v1h-2zM401 431h1v1h-1zM412 440h1v1h-1zM423 449h1v1h-1zM735 703h1v1h-1zM219 283h1v1h-1zM746 712h1v1h-1zM757 721h1v1h-1zM334 377h2v1h-2zM553 555h1v1h-1zM413 441h1v1h-1zM231 293h1v1h-1zM438 461h1v1h-1zM449 470h1v1h-1zM245 304h1v1h-1zM772 733h1v1h-1zM256 313h1v1h-1zM579 576h1v1h-1zM590 585h1v1h-1zM167 241h2v1h-2zM178 250h2v1h-2zM257 314h1v1h-1zM464 482h1v1h-1zM615 605h1v1h-1zM475 491h1v1h-1zM271 325h1v1h-1zM282 334h1v1h-1zM293 343h1v1h-1zM605 597h1v1h-1zM397 428h1v1h-1zM616 606h1v1h-1zM204 271h1v1h-1zM731 700h2v1h-2zM215 280h1v1h-1zM640 626h2v1h-2zM229 291h1v1h-1zM631 618h1v1h-1zM563 563h1v1h-1zM642 627h1v1h-1zM653 636h1v1h-1zM230 292h1v1h-1zM241 301h1v1h-1zM564 564h2v1h-2zM255 312h1v1h-1zM589 584h1v1h-1zM668 648h1v1h-1zM679 657h1v1h-1zM407 436h1v1h-1zM267 322h1v1h-1zM486 500h1v1h-1zM741 708h1v1h-1zM601 594h1v1h-1zM408 437h1v1h-1zM419 446h1v1h-1zM422 448h1v1h-1zM433 457h1v1h-1zM756 720h1v1h-1zM522 530h2v1h-2zM767 729h1v1h-1zM627 615h1v1h-1zM355 394h2v1h-2zM434 458h1v1h-1zM445 467h1v1h-1zM252 310h1v1h-1zM459 478h1v1h-1zM266 321h1v1h-1zM277 330h1v1h-1zM600 593h1v1h-1zM460 479h1v1h-1zM611 602h1v1h-1zM188 258h1v1h-1zM471 488h1v1h-1zM690 666h1v1h-1zM278 331h1v1h-1zM289 340h1v1h-1zM612 603h1v1h-1zM623 612h1v1h-1zM303 351h1v1h-1zM314 360h1v1h-1zM626 614h1v1h-1zM637 623h1v1h-1zM648 632h1v1h-1zM225 288h1v1h-1zM444 466h1v1h-1zM304 352h1v1h-1zM236 297h1v1h-1zM638 624h1v1h-1zM456 476h1v1h-1zM652 635h1v1h-1zM663 644h1v1h-1zM674 653h1v1h-1zM251 309h1v1h-1zM470 487h1v1h-1zM330 373h1v1h-1zM262 318h1v1h-1zM481 496h1v1h-1zM585 581h1v1h-1zM664 645h1v1h-1zM596 590h1v1h-1zM392 424h1v1h-1zM482 497h1v1h-1zM288 339h1v1h-1zM507 517h1v1h-1zM622 611h1v1h-1zM418 445h1v1h-1zM429 454h1v1h-1zM440 463h1v1h-1zM455 475h1v1h-1zM466 484h1v1h-1zM273 327h1v1h-1zM298 347h1v1h-1zM632 619h1v1h-1zM492 505h1v1h-1zM711 683h1v1h-1zM299 348h1v1h-1zM310 357h1v1h-1zM633 620h1v1h-1zM644 629h1v1h-1zM658 640h1v1h-1zM518 526h1v1h-1zM246 305h1v1h-1zM325 369h1v1h-1zM336 378h1v1h-1zM580 577h1v1h-1zM659 641h1v1h-1zM670 650h1v1h-1zM247 306h1v1h-1zM477 493h1v1h-1zM272 326h1v1h-1zM491 504h1v1h-1zM502 513h1v1h-1zM362 399h1v1h-1zM606 598h1v1h-1zM685 662h1v1h-1zM169 242h1v1h-1zM696 671h1v1h-1zM205 272h2v1h-2zM424 450h1v1h-1zM284 336h1v1h-1zM503 514h1v1h-1zM435 459h1v1h-1zM439 462h1v1h-1zM450 471h1v1h-1zM669 649h1v1h-1zM529 535h1v1h-1zM461 480h1v1h-1zM773 734h1v1h-1zM540 544h1v1h-1zM268 323h1v1h-1zM451 472h1v1h-1zM476 492h1v1h-1zM695 670h1v1h-1zM487 501h1v1h-1zM283 335h1v1h-1zM294 344h1v1h-1zM373 408h1v1h-1zM617 607h1v1h-1zM628 616h1v1h-1zM488 502h1v1h-1zM707 680h1v1h-1zM306 354h1v1h-1zM513 522h1v1h-1zM309 356h1v1h-1zM320 365h1v1h-1zM331 374h1v1h-1zM643 628h1v1h-1zM654 637h1v1h-1zM733 701h1v1h-1zM665 646h1v1h-1zM321 366h1v1h-1zM655 638h1v1h-1zM290 347h1v19h-1zM1158 190h5v1h-5zM697 289h5v1h-5zM576 315h5v1h-5zM544 322h4v1h-4zM949 235h4v1h-4zM367 360h4v1h-4zM716 285h5v1h-5zM1121 198h5v1h-5zM1000 224h5v1h-5zM465 339h4v1h-4zM334 367h5v1h-5zM1088 205h5v1h-5zM967 231h5v1h-5zM888 248h5v1h-5zM506 330h5v1h-5zM432 346h5v1h-5zM856 255h4v1h-4zM1140 194h4v1h-4zM1065 210h5v1h-5zM679 293h4v1h-4zM604 309h5v1h-5zM558 319h4v1h-4zM572 316h4v1h-4zM525 326h5v1h-5zM623 305h4v1h-4zM446 343h5v1h-5zM795 268h5v1h-5zM413 350h5v1h-5zM1168 188h4v1h-4zM1046 214h5v1h-5zM586 313h4v1h-4zM511 329h5v1h-5zM935 238h4v1h-4zM553 320h5v1h-5zM725 283h5v1h-5zM651 299h4v1h-4zM897 246h5v1h-5zM702 288h5v1h-5zM322 370h3v1h-3zM492 333h5v1h-5zM842 258h4v1h-4zM665 296h4v1h-4zM632 303h5v1h-5zM804 266h5v1h-5zM683 292h5v1h-5zM399 353h5v1h-5zM749 278h4v1h-4zM362 361h5v1h-5zM646 300h5v1h-5zM539 323h5v1h-5zM786 270h4v1h-4zM711 286h5v1h-5zM995 225h5v1h-5zM884 249h4v1h-4zM502 331h4v1h-4zM851 256h5v1h-5zM730 282h5v1h-5zM1135 195h5v1h-5zM674 294h5v1h-5zM1023 219h5v1h-5zM902 245h5v1h-5zM441 344h5v1h-5zM693 290h4v1h-4zM618 306h5v1h-5zM911 243h5v1h-5zM865 253h5v1h-5zM790 269h5v1h-5zM832 260h5v1h-5zM758 276h4v1h-4zM1042 215h4v1h-4zM930 239h5v1h-5zM809 265h5v1h-5zM348 364h5v1h-5zM1102 202h5v1h-5zM981 228h5v1h-5zM488 334h4v1h-4zM772 273h4v1h-4zM739 280h5v1h-5zM870 252h4v1h-4zM837 259h5v1h-5zM376 358h5v1h-5zM1084 206h4v1h-4zM1009 222h5v1h-5zM427 347h5v1h-5zM977 229h4v1h-4zM395 354h4v1h-4zM800 267h4v1h-4zM1149 192h5v1h-5zM1028 218h5v1h-5zM567 317h5v1h-5zM534 324h5v1h-5zM818 263h5v1h-5zM744 279h5v1h-5zM357 362h5v1h-5zM991 226h4v1h-4zM916 242h5v1h-5zM958 233h5v1h-5zM1130 196h5v1h-5zM1056 212h4v1h-4zM474 337h4v1h-4zM1107 201h5v1h-5zM846 257h5v1h-5zM613 307h5v1h-5zM823 262h5v1h-5zM329 368h5v1h-5zM1070 209h4v1h-4zM1037 216h5v1h-5zM963 232h4v1h-4zM455 341h5v1h-5zM381 357h4v1h-4zM520 327h5v1h-5zM925 240h5v1h-5zM343 365h5v1h-5zM1154 191h4v1h-4zM1098 203h4v1h-4zM944 236h5v1h-5zM483 335h5v1h-5zM1116 199h5v1h-5zM460 340h5v1h-5zM907 244h4v1h-4zM600 310h4v1h-4zM1079 207h5v1h-5zM1005 223h4v1h-4zM972 230h5v1h-5zM390 355h5v1h-5zM1144 193h5v1h-5zM562 318h5v1h-5zM409 351h4v1h-4zM814 264h4v1h-4zM1163 189h5v1h-5zM581 314h5v1h-5zM986 227h5v1h-5zM953 234h5v1h-5zM1051 213h5v1h-5zM469 338h5v1h-5zM753 277h5v1h-5zM437 345h4v1h-4zM609 308h4v1h-4zM893 247h4v1h-4zM781 271h5v1h-5zM860 254h5v1h-5zM660 297h5v1h-5zM1033 217h4v1h-4zM451 342h4v1h-4zM548 321h5v1h-5zM590 312h5v1h-5zM516 328h4v1h-4zM762 275h5v1h-5zM688 291h5v1h-5zM655 298h5v1h-5zM939 237h5v1h-5zM478 336h5v1h-5zM707 287h4v1h-4zM1112 200h4v1h-4zM530 325h4v1h-4zM497 332h5v1h-5zM423 348h4v1h-4zM669 295h5v1h-5zM595 311h5v1h-5zM767 274h5v1h-5zM735 281h4v1h-4zM1019 220h4v1h-4zM325 369h4v1h-4zM404 352h5v1h-5zM641 301h5v1h-5zM371 359h5v1h-5zM776 272h5v1h-5zM721 284h4v1h-4zM418 349h5v1h-5zM627 304h5v1h-5zM874 251h5v1h-5zM1014 221h5v1h-5zM921 241h4v1h-4zM339 366h4v1h-4zM1093 204h5v1h-5zM1060 211h5v1h-5zM828 261h4v1h-4zM1074 208h5v1h-5zM1172 187h3v1h-3zM385 356h5v1h-5zM353 363h4v1h-4zM1126 197h4v1h-4zM879 250h5v1h-5zM637 302h4v1h-4zM1346 341h1v2h-1zM1343 337h1v1h-1zM1348 344h1v2h-1zM1350 347h1v2h-1zM1345 340h1v1h-1zM1344 338h1v2h-1zM1353 352h1v2h-1zM1347 343h1v1h-1zM1355 355h1v2h-1zM1352 350h1v2h-1zM1351 349h1v1h-1zM1354 354h1v1h-1zM1349 346h1v1h-1zM1357 358h1v2h-1zM1356 357h1v1h-1zM1358 360h1v1h-1zM1359 361h1v2h-1zM1360 363h1v1h-1zM986 544h2v1h-2zM932 573h2v1h-2zM1233 412h2v1h-2zM937 570h2v1h-2zM883 599h2v1h-2zM1184 438h2v1h-2zM829 628h2v1h-2zM1130 467h2v1h-2zM1076 496h2v1h-2zM1021 525h2v1h-2zM1072 498h2v1h-2zM1018 527h2v1h-2zM964 556h1v1h-1zM909 585h2v1h-2zM1210 424h2v1h-2zM855 614h2v1h-2zM1156 453h2v1h-2zM806 640h2v1h-2zM1107 479h2v1h-2zM1207 426h1v1h-1zM1094 486h2v1h-2zM1152 455h2v1h-2zM1040 515h2v1h-2zM851 616h2v1h-2zM797 645h2v1h-2zM1091 488h1v1h-1zM1036 517h2v1h-2zM982 546h2v1h-2zM928 575h2v1h-2zM1229 414h2v1h-2zM874 604h2v1h-2zM1175 443h2v1h-2zM879 601h2v1h-2zM1180 440h2v1h-2zM825 630h2v1h-2zM1126 469h2v1h-2zM1225 416h2v1h-2zM870 606h2v1h-2zM1171 445h2v1h-2zM816 635h2v1h-2zM1117 474h2v1h-2zM821 632h2v1h-2zM1122 471h2v1h-2zM1068 500h2v1h-2zM1014 529h2v1h-2zM960 558h2v1h-2zM906 587h1v1h-1zM1005 534h2v1h-2zM956 560h2v1h-2zM902 589h2v1h-2zM1145 459h2v1h-2zM1203 428h2v1h-2zM848 618h1v1h-1zM1149 457h1v1h-1zM793 647h2v1h-2zM790 649h2v1h-2zM1190 435h2v1h-2zM1141 461h2v1h-2zM786 651h2v1h-2zM1087 490h2v1h-2zM1033 519h2v1h-2zM853 615h2v1h-2zM978 548h2v1h-2zM924 577h2v1h-2zM1051 509h2v1h-2zM997 538h2v1h-2zM921 579h1v1h-1zM1221 418h2v1h-2zM866 608h2v1h-2zM1167 447h2v1h-2zM988 543h2v1h-2zM1113 476h2v1h-2zM812 637h2v1h-2zM1059 505h2v1h-2zM1064 502h2v1h-2zM885 598h2v1h-2zM1010 531h2v1h-2zM1186 437h2v1h-2zM831 627h2v1h-2zM1132 466h2v1h-2zM777 656h1v1h-1zM1055 507h2v1h-2zM1001 536h2v1h-2zM947 565h2v1h-2zM1070 499h2v1h-2zM1195 432h2v1h-2zM1016 528h2v1h-2zM1199 430h2v1h-2zM844 620h2v1h-2zM1083 492h2v1h-2zM904 588h2v1h-2zM1029 521h2v1h-2zM1205 427h2v1h-2zM849 617h2v1h-2zM1150 456h2v1h-2zM795 646h2v1h-2zM1074 497h2v1h-2zM993 540h2v1h-2zM939 569h2v1h-2zM1218 420h2v1h-2zM1038 516h2v1h-2zM1164 449h1v1h-1zM984 545h2v1h-2zM863 610h1v1h-1zM930 574h2v1h-2zM935 571h2v1h-2zM881 600h2v1h-2zM1182 439h2v1h-2zM827 629h2v1h-2zM1128 468h2v1h-2zM1169 446h2v1h-2zM872 605h2v1h-2zM1115 475h2v1h-2zM1173 444h2v1h-2zM818 634h2v1h-2zM814 636h2v1h-2zM1066 501h2v1h-2zM1124 470h2v1h-2zM1012 530h2v1h-2zM958 559h2v1h-2zM1057 506h2v1h-2zM1003 535h2v1h-2zM1008 532h2v1h-2zM954 561h2v1h-2zM900 590h2v1h-2zM1201 429h2v1h-2zM846 619h2v1h-2zM1147 458h2v1h-2zM792 648h1v1h-1zM1092 487h2v1h-2zM1143 460h2v1h-2zM788 650h2v1h-2zM1089 489h2v1h-2zM1035 518h1v1h-1zM980 547h2v1h-2zM926 576h2v1h-2zM1227 415h2v1h-2zM1178 441h2v1h-2zM823 631h2v1h-2zM922 578h2v1h-2zM1165 448h2v1h-2zM1223 417h2v1h-2zM1111 477h2v1h-2zM868 607h2v1h-2zM810 638h2v1h-2zM1162 450h2v1h-2zM1053 508h2v1h-2zM999 537h2v1h-2zM945 566h2v1h-2zM950 563h2v1h-2zM896 592h2v1h-2zM1197 431h2v1h-2zM842 621h2v1h-2zM941 568h2v1h-2zM887 597h2v1h-2zM1188 436h2v1h-2zM833 626h2v1h-2zM892 594h2v1h-2zM1193 433h2v1h-2zM838 623h2v1h-2zM1139 462h2v1h-2zM784 652h2v1h-2zM1085 491h2v1h-2zM1031 520h2v1h-2zM977 549h1v1h-1zM1027 522h2v1h-2zM973 551h2v1h-2zM1216 421h2v1h-2zM919 580h2v1h-2zM861 611h2v1h-2zM1220 419h1v1h-1zM864 609h2v1h-2zM1212 423h2v1h-2zM857 613h2v1h-2zM1158 452h2v1h-2zM803 642h2v1h-2zM1104 481h2v1h-2zM1049 510h2v1h-2zM995 539h2v1h-2zM1046 512h2v1h-2zM992 541h1v1h-1zM1135 464h2v1h-2zM780 654h2v1h-2zM1081 493h2v1h-2zM1023 524h2v1h-2zM969 553h2v1h-2zM915 582h2v1h-2zM907 586h2v1h-2zM1208 425h2v1h-2zM1154 454h2v1h-2zM975 550h2v1h-2zM1100 483h2v1h-2zM799 644h2v1h-2zM898 591h2v1h-2zM1042 514h2v1h-2zM808 639h2v1h-2zM934 572h1v1h-1zM1109 478h2v1h-2zM1235 411h1v1h-1zM952 562h2v1h-2zM1177 442h1v1h-1zM943 567h2v1h-2zM889 596h2v1h-2zM836 624h2v1h-2zM1137 463h2v1h-2zM840 622h2v1h-2zM965 555h2v1h-2zM782 653h2v1h-2zM1079 494h2v1h-2zM1025 523h2v1h-2zM971 552h2v1h-2zM917 581h2v1h-2zM962 557h2v1h-2zM1214 422h2v1h-2zM1160 451h2v1h-2zM859 612h2v1h-2zM1106 480h1v1h-1zM805 641h1v1h-1zM894 593h2v1h-2zM1119 473h2v1h-2zM778 655h2v1h-2zM878 602h1v1h-1zM967 554h2v1h-2zM913 583h2v1h-2zM801 643h2v1h-2zM1102 482h2v1h-2zM1048 511h1v1h-1zM1098 484h2v1h-2zM1044 513h2v1h-2zM990 542h2v1h-2zM820 633h1v1h-1zM1121 472h1v1h-1zM1063 503h1v1h-1zM911 584h2v1h-2zM1096 485h2v1h-2zM1020 526h1v1h-1zM1231 413h2v1h-2zM876 603h2v1h-2zM835 625h1v1h-1zM949 564h1v1h-1zM1078 495h1v1h-1zM1061 504h2v1h-2zM1007 533h1v1h-1zM891 595h1v1h-1zM1192 434h1v1h-1zM1134 465h1v1h-1zM776 733h2v1h-2zM766 730h3v1h-3zM769 731h3v1h-3zM760 728h2v1h-2zM762 729h4v1h-4zM772 732h4v1h-4z"/>
<g><text transform="translate(61.34 12.00) scale(1.013 1.000)">2</text><text transform="translate(69.73 12.00) scale(0.916 1.000)">4</text><text transform="translate(77.51 12.00) scale(0.966 1.000)">0</text><text transform="translate(85.51 12.00) scale(0.966 1.000)">0</text><text transform="translate(165.34 12.00) scale(1.013 1.000)">2</text><text transform="translate(173.34 12.00) scale(1.013 1.000)">2</text><text transform="translate(181.51 12.00) scale(0.966 1.000)">0</text><text transform="translate(189.51 12.00) scale(0.966 1.000)">0</text><text transform="translate(279.34 12.00) scale(1.013 1.000)">2</text><text transform="translate(287.51 12.00) scale(0.966 1.000)">0</text><text transform="translate(295.51 12.00) scale(0.966 1.000)">0</text><text transform="translate(303.51 12.00) scale(0.966 1.000)">0</text><text transform="translate(414.44 12.00) scale(0.984 1.000)">8</text><text transform="translate(422.51 12.00) scale(0.966 1.000)">0</text><text transform="translate(430.51 12.00) scale(0.966 1.000)">0</text><text transform="translate(555.23 12.00) scale(1.167 1.000)">6</text><text transform="translate(563.51 12.00) scale(0.966 1.000)">0</text><text transform="translate(571.51 12.00) scale(0.966 1.000)">0</text><text transform="translate(715.73 12.00) scale(0.916 1.000)">4</text><text transform="translate(723.51 12.00) scale(0.966 1.000)">0</text><text transform="translate(731.51 12.00) scale(0.966 1.000)">0</text><text transform="translate(900.34 12.00) scale(1.013 1.000)">2</text><text transform="translate(908.51 12.00) scale(0.966 1.000)">0</text><text transform="translate(916.51 12.00) scale(0.966 1.000)">0</text><text transform="translate(1119.51 12.00) scale(0.966 1.000)">0</text><text transform="translate(1127.51 12.00) scale(0.966 1.000)">0</text><text transform="translate(1135.51 12.00) scale(0.966 1.000)">0</text><text transform="translate(1379.44 12.00) scale(0.984 1.000)">8</text><text transform="translate(1387.51 12.00) scale(0.966 1.000)">0</text><text transform="translate(1395.51 12.00) scale(0.966 1.000)">0</text><text transform="translate(1.52 152.00) scale(0.973 1.000)">3</text><text transform="translate(9.51 152.00) scale(0.966 1.000)">0</text><text transform="translate(17.51 152.00) scale(0.966 1.000)">0</text><text transform="translate(1.73 307.00) scale(0.916 1.000)">4</text><text transform="translate(9.51 307.00) scale(0.966 1.000)">0</text><text transform="translate(17.51 307.00) scale(0.966 1.000)">0</text><text transform="translate(1.49 427.00) scale(0.973 1.000)">5</text><text transform="translate(9.51 427.00) scale(0.966 1.000)">0</text><text transform="translate(17.51 427.00) scale(0.966 1.000)">0</text><text transform="translate(1.23 525.00) scale(1.167 1.000)">6</text><text transform="translate(9.51 525.00) scale(0.966 1.000)">0</text><text transform="translate(17.51 525.00) scale(0.966 1.000)">0</text><text transform="translate(1.32 607.00) scale(1.015 1.000)">7</text><text transform="translate(9.51 607.00) scale(0.966 1.000)">0</text><text transform="translate(17.51 607.00) scale(0.966 1.000)">0</text><text transform="translate(1.44 679.00) scale(0.984 1.000)">8</text><text transform="translate(9.51 679.00) scale(0.966 1.000)">0</text><text transform="translate(17.51 679.00) scale(0.966 1.000)">0</text><text transform="translate(1.29 742.00) scale(1.166 1.000)">9</text><text transform="translate(9.51 742.00) scale(0.966 1.000)">0</text><text transform="translate(17.51 742.00) scale(0.966 1.000)">0</text><text transform="translate(9.51 799.00) scale(0.966 1.000)">0</text><text transform="translate(17.51 799.00) scale(0.966 1.000)">0</text><text transform="translate(25.51 799.00) scale(0.966 1.000)">0</text><text transform="translate(462.97 115.00) scale(0.931 1.000)">y</text><text transform="translate(1157.08 189.00) scale(1.086 1.000)">u</text><text transform="translate(1475.08 187.00) scale(1.086 1.000)">u</text><text transform="translate(1475.05 197.00) scale(0.948 1.000)">U</text><text transform="translate(201.46 328.00) scale(0.984 1.000)">e</text><text transform="translate(294.46 377.00) scale(0.984 1.000)">e</text><text transform="translate(302.00 378.05) scale(1.107 1.118)">/</text><text transform="translate(294.46 387.00) scale(0.984 1.000)">e</text><text transform="translate(326.46 382.00) scale(0.984 1.000)">e</text><text transform="translate(334.05 382.00) scale(0.948 1.000)">U</text><text transform="translate(344.46 431.00) scale(0.984 1.000)" fill="#555577">e</text><text transform="translate(352.00 432.05) scale(1.107 1.118)" fill="#555577">/</text><text transform="translate(1289.47 392.00) scale(0.977 1.000)">o</text><text transform="translate(1364.47 375.00) scale(0.977 1.000)">o</text><text transform="translate(1364.47 385.00) scale(0.977 1.000)">o</text><text transform="translate(1372.00 386.05) scale(1.107 1.118)">/</text><text transform="translate(1295.47 439.00) scale(0.977 1.000)" fill="#555577">o</text><text transform="translate(1303.00 440.05) scale(1.107 1.118)" fill="#555577">/</text><text transform="translate(675.98 453.00) scale(0.995 1.000)">@</text><text transform="translate(675.98 463.00) scale(0.995 1.000)">@</text><text transform="translate(1188.51 510.00) scale(0.789 1.000)">O</text><text transform="translate(781.50 668.00) scale(0.899 1.000)">a</text><text transform="translate(789.05 668.00) scale(0.948 1.000)">U</text><text transform="translate(781.50 679.00) scale(0.899 1.000)" fill="#555577">a</text><text transform="translate(789.00 680.05) scale(1.107 1.118)" fill="#555577">/</text><text transform="translate(875.50 701.00) scale(0.899 1.000)">a</text><text transform="translate(883.00 702.05) scale(1.107 1.118)">/</text><text transform="translate(781.50 745.00) scale(0.899 1.000)">a</text><text transform="translate(781.50 749.00) scale(0.899 1.000)">a</text></g>
<path fill="#000" d="M409 3h1v9h-1zM407 3h2v1h-2zM407 11h5v1h-5zM550 3h1v9h-1zM548 3h2v1h-2zM548 11h5v1h-5zM710 3h1v9h-1zM708 3h2v1h-2zM708 11h5v1h-5zM895 3h1v9h-1zM893 3h2v1h-2zM893 11h5v1h-5zM1114 3h1v9h-1zM1112 3h2v1h-2zM1112 11h5v1h-5zM4 790h1v9h-1zM2 790h2v1h-2zM2 798h5v1h-5zM126 108h1v7h-1zM126 106h1v1h-1zM116 165h1v9h-1zM1166 180h1v9h-1zM303 378h1v9h-1zM1298 383h1v9h-1zM690 459h3v1h-3zM397 501h1v9h-1zM398 501h5v1h-5zM398 505h5v1h-5zM398 509h5v1h-5zM410 583h1v9h-1zM411 583h5v1h-5zM411 587h5v1h-5zM411 591h5v1h-5zM418 583h1v9h-1zM790 740h1v9h-1z"/>
<path fill="#555577" d=""/>
</svg></div></body></html>
